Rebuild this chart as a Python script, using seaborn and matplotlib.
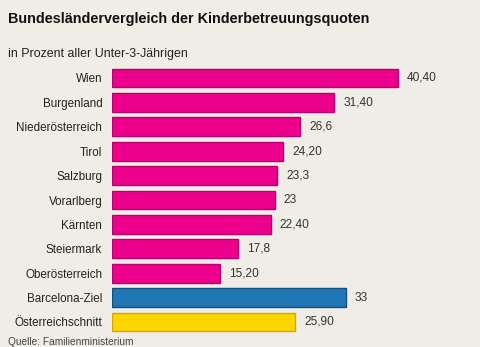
import matplotlib
matplotlib.use("Agg")
import matplotlib.pyplot as plt
import seaborn as sns
import pandas as pd

regions = ["Wien", "Burgenland", "Niederösterreich", "Tirol", "Salzburg", "Vorarlberg",
           "Kärnten", "Steiermark", "Oberösterreich", "Barcelona-Ziel", "Österreichschnitt"]
quoten = [40.40, 31.40, 26.6, 24.20, 23.3, 23, 22.40, 17.8, 15.20, 33, 25.90]
value_labels = ["40,40", "31,40", "26,6", "24,20", "23,3", "23", "22,40", "17,8", "15,20", "33", "25,90"]
fill_colors = ["#EC008C"] * 9 + ["#2177B5", "#FFD500"]
edge_colors = ["#B8006E"] * 9 + ["#12507E", "#D4A600"]

bg = "#EFEDE6"
sns.set_theme(style="white")
plt.rcParams["font.family"] = ["Liberation Sans", "DejaVu Sans"]

df = pd.DataFrame({"region": regions, "quote": quoten})

fig = plt.figure(figsize=(4.8, 3.47), dpi=100, facecolor=bg)
ax = fig.add_axes([112 / 480, 1 - 334.2 / 347, 358 / 480, (334.2 - 65.8) / 347])
ax.set_facecolor(bg)

sns.barplot(data=df, x="quote", y="region", hue="region", palette=fill_colors,
            saturation=1, legend=False, width=0.77, ax=ax, linewidth=1)
for patch, ec in zip(ax.patches, edge_colors):
    patch.set_edgecolor(ec)

ax.set_xlim(0, 358 / 7.08)
ax.set_ylim(10.5, -0.5)
for s in ax.spines.values():
    s.set_visible(False)
ax.set_xticks([])
ax.set_xlabel("")
ax.set_ylabel("")
ax.tick_params(axis="y", length=0, pad=7, labelsize=8.4, labelcolor="#222222")

for i, (v, lab) in enumerate(zip(quoten, value_labels)):
    ax.annotate(lab, (v, i), xytext=(6.5, 0), textcoords="offset points",
                va="center", ha="left", fontsize=8.6, color="#333333")

fig.text(8 / 480, 1 - 19 / 347, "Bundesländervergleich der Kinderbetreuungsquoten",
         fontsize=10.4, fontweight="bold", color="#111111", va="center", ha="left")
fig.text(8 / 480, 1 - 54 / 347, "in Prozent aller Unter-3-Jährigen",
         fontsize=8.9, color="#222222", va="center", ha="left")
fig.text(8 / 480, 1 - 342 / 347, "Quelle: Familienministerium",
         fontsize=7.3, color="#444444", va="center", ha="left")

fig.savefig("out.png", dpi=100, facecolor=bg)
